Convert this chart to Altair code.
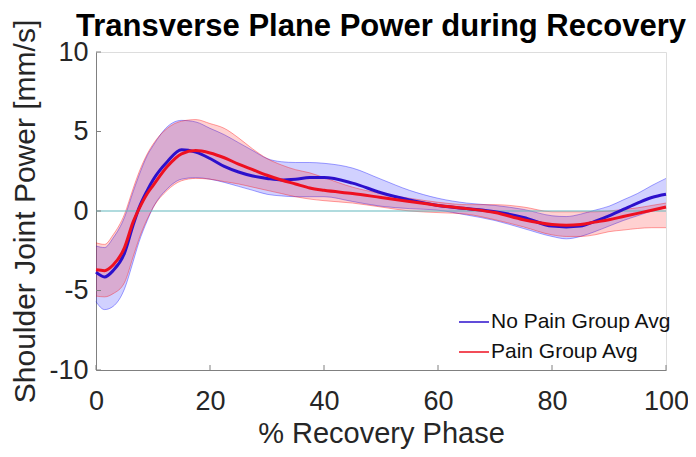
import altair as alt
import pandas as pd

# % recovery phase sample points
x_pct = [0, 1.5, 3, 5, 6.5, 7.5, 9, 10, 12.5, 15, 17.5, 20, 22.5, 25, 27.5, 30, 32.5, 35,
         37.5, 40, 45, 50, 55, 60, 65, 70, 75, 80, 82.5, 85, 87.5, 90, 92.5, 95, 97.5, 100]

# No Pain group (blue)
nopain_mean = [-3.85, -4.15, -3.75, -2.65, -0.9, 0.15, 1.3, 1.95, 3.1, 3.85, 3.7, 3.3, 2.8, 2.45,
               2.2, 2.05, 1.95, 2.0, 2.1, 2.1, 1.75, 1.15, 0.7, 0.35, 0.15, -0.05, -0.4, -0.95,
               -1.0, -0.95, -0.65, -0.3, 0.1, 0.5, 0.85, 1.05]
nopain_upper = [-2.2, -2.3, -1.7, -0.4, 1.2, 2.2, 3.5, 4.1, 5.3, 5.7, 5.6, 5.2, 4.8, 4.3, 3.8, 3.3,
                3.1, 3.05, 3.05, 3.0, 2.7, 2.0, 1.3, 0.8, 0.5, 0.35, 0.1, -0.3, -0.35, -0.2, 0.05,
                0.3, 0.7, 1.1, 1.6, 2.05]
nopain_lower = [-5.7, -6.2, -6.0, -4.9, -3.2, -2.0, -0.6, 0.2, 1.4, 2.0, 2.1, 2.0, 1.8, 1.55, 1.3,
                1.05, 0.95, 0.9, 0.9, 0.9, 0.6, 0.3, 0.15, 0.05, -0.25, -0.6, -1.1, -1.6, -1.75,
                -1.6, -1.3, -0.95, -0.6, -0.3, 0.0, 0.2]

# Pain group (red)
pain_mean = [-3.7, -3.75, -3.4, -2.3, -0.7, 0.1, 1.1, 1.6, 2.8, 3.6, 3.8, 3.65, 3.35, 2.95, 2.6,
             2.25, 1.95, 1.7, 1.45, 1.3, 1.1, 0.85, 0.6, 0.35, 0.15, -0.1, -0.55, -0.85, -0.9,
             -0.85, -0.7, -0.55, -0.35, -0.15, 0.05, 0.25]
pain_upper = [-2.0, -2.1, -1.5, -0.2, 1.4, 2.4, 3.6, 4.2, 5.2, 5.65, 5.75, 5.5, 5.2, 4.6, 3.9, 3.3,
              2.9, 2.6, 2.4, 2.1, 1.5, 1.1, 0.8, 0.55, 0.4, 0.4, 0.25, -0.05, -0.05, -0.05, -0.05,
              0.0, 0.1, 0.2, 0.35, 0.5]
pain_lower = [-5.35, -5.4, -5.2, -4.5, -2.9, -1.8, -0.5, 0.2, 1.3, 1.9, 2.05, 2.0, 1.85, 1.7, 1.5,
              1.3, 1.1, 0.9, 0.75, 0.65, 0.5, 0.25, 0.0, -0.1, -0.2, -0.55, -1.0, -1.5, -1.6, -1.6,
              -1.5, -1.3, -1.2, -1.1, -1.05, -1.05]

series_names = ["No Pain Group Avg", "Pain Group Avg"]
x_ticks = [0, 20, 40, 60, 80, 100]
y_ticks = [-10, -5, 0, 5, 10]

FONT = "Liberation Sans"
line_colors = ["#2c10cc", "#ee1020"]
band_colors = ["#0000ff", "#ff0000"]

rows = []
for name, m, up, lo in [(series_names[0], nopain_mean, nopain_upper, nopain_lower),
                        (series_names[1], pain_mean, pain_upper, pain_lower)]:
    for xi, mi, ui, li in zip(x_pct, m, up, lo):
        rows.append({"x": xi, "series": name, "mean": mi, "upper": ui, "lower": li})
df = pd.DataFrame(rows)

W, H = 570, 318
xscale = alt.Scale(domain=[0, 100], nice=False, zero=False)
yscale = alt.Scale(domain=[-10, 10], nice=False, zero=False)

xenc = alt.X("x:Q", scale=xscale,
             axis=alt.Axis(values=x_ticks, title="% Recovery Phase", grid=False, ticks=False,
                           labelFontSize=27, titleFontSize=29, labelPadding=18, titlePadding=5,
                           domainColor="#808080", labelColor="#262626", titleColor="#262626",
                           labelFont=FONT, titleFont=FONT, titleFontWeight="normal",
                           labelFlush=False, labelExpr="'' + datum.value"))
yaxis = alt.Axis(values=y_ticks, title="Shoulder Joint Power [mm/s]", grid=False, ticks=False,
                 labelFontSize=27, titleFontSize=30, labelPadding=8, titlePadding=8,
                 domainColor="#808080", labelColor="#262626", titleColor="#262626",
                 labelFont=FONT, titleFont=FONT, titleFontWeight="normal", labelFlush=False,
                 labelExpr="'' + datum.value")


def band_layers(name, color):
    base = alt.Chart(df).transform_filter(alt.datum.series == name)
    area = base.mark_area(opacity=0.18, interpolate="monotone", color=color).encode(
        x=xenc, y=alt.Y("lower:Q", scale=yscale, axis=yaxis), y2="upper:Q")
    up = base.mark_line(strokeWidth=0.8, opacity=0.45, interpolate="monotone", color=color).encode(
        x="x:Q", y="upper:Q")
    lo = base.mark_line(strokeWidth=0.8, opacity=0.45, interpolate="monotone", color=color).encode(
        x="x:Q", y="lower:Q")
    return [area, up, lo]


layers = band_layers(series_names[0], band_colors[0]) + band_layers(series_names[1], band_colors[1])

zero = alt.Chart(pd.DataFrame({"y": [0]})).mark_rule(color="#63b8bd", strokeWidth=1.2).encode(
    y="y:Q")

means = alt.Chart(df).mark_line(strokeWidth=3, interpolate="monotone").encode(
    x="x:Q",
    y="mean:Q",
    color=alt.Color("series:N", scale=alt.Scale(domain=series_names, range=line_colors),
                    legend=alt.Legend(title=None, orient="none", legendX=362, legendY=254,
                                      symbolType="stroke", symbolSize=900, symbolStrokeWidth=1.5,
                                      labelFontSize=21, labelFont=FONT, labelColor="#111111",
                                      labelLimit=400, labelOffset=1, rowPadding=4, padding=0)),
)

xt = alt.Chart(pd.DataFrame({"t": x_ticks})).mark_rule(color="#808080", strokeWidth=1).encode(
    x="t:Q", y=alt.value(H), y2=alt.value(H - 5))
yt = alt.Chart(pd.DataFrame({"t": y_ticks})).mark_rule(color="#808080", strokeWidth=1).encode(
    y="t:Q", x=alt.value(0), x2=alt.value(5))

chart = alt.layer(*layers, zero, xt, yt, means).properties(
    width=W, height=H,
    autosize=alt.AutoSizeParams(type="none"),
    padding={"left": 88, "top": 44, "right": 22, "bottom": 79},
    title=alt.TitleParams("Transverse Plane Power during Recovery", fontSize=31, font=FONT,
                          fontWeight="bold", color="#000000", anchor="middle", offset=2, dy=26),
).configure_view(stroke=None).configure(background="white")

chart.save("out.html", embed_options={"renderer": "svg", "actions": False})
